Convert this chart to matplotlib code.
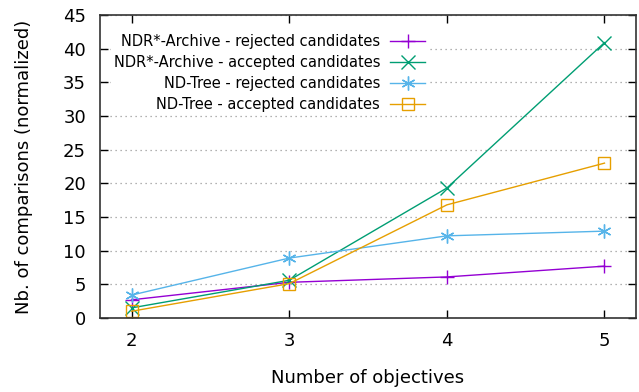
import matplotlib.pyplot as plt

objectives = [2, 3, 4, 5]

ndr_rejected = [2.7, 5.3, 6.1, 7.7]
ndr_accepted = [1.5, 5.6, 19.3, 40.9]
ndtree_rejected = [3.4, 8.9, 12.2, 12.9]
ndtree_accepted = [1.0, 5.1, 16.8, 23.0]

series = [
    ("NDR*-Archive - rejected candidates", ndr_rejected, "#9400d3", "+"),
    ("NDR*-Archive - accepted candidates", ndr_accepted, "#009e73", "x"),
    ("ND-Tree - rejected candidates", ndtree_rejected, "#56b4e9", (6, 2, 0)),
    ("ND-Tree - accepted candidates", ndtree_accepted, "#e69f00", "s"),
]

fig = plt.figure(figsize=(6.39, 3.92), dpi=100)
ax = fig.add_axes([100 / 639, 1 - 318 / 392, 536 / 639, 303 / 392])

for label, vals, color, marker in series:
    face = "none" if marker == "s" else color
    ms = 9 if marker == "s" else 10
    ax.plot(objectives, vals, color=color, lw=1.0, marker=marker,
            markersize=ms, markerfacecolor=face, markeredgewidth=1.0,
            label=label)

ax.set_xlim(1.8, 5.2)
ax.set_ylim(0, 45)
ax.set_xticks(objectives)
ax.set_yticks(range(0, 46, 5))
ax.yaxis.grid(True, linestyle=(0, (1, 3)), color="#999999", lw=0.9)
ax.set_axisbelow(True)

ax.tick_params(direction="in", top=True, right=True, length=6, width=1.0,
               labelsize=13, pad=10)
for s in ax.spines.values():
    s.set_linewidth(1.2)
    s.set_color("#333333")

ax.set_xlabel("Number of objectives", fontsize=13, labelpad=14)
ax.set_ylabel("Nb. of comparisons (normalized)", fontsize=13, labelpad=22)

leg = ax.legend(loc="upper left", bbox_to_anchor=(0.012, 0.96), fontsize=10.5,
                frameon=True, markerfirst=False, handlelength=2.4,
                borderaxespad=0.3, labelspacing=0.4, handletextpad=0.7,
                borderpad=0.2)
leg.get_frame().set_edgecolor("none")
leg.get_frame().set_alpha(1.0)
for t in leg.get_texts():
    t.set_ha("right")
leg._legend_box.align = "right"

fig.savefig("out.png", dpi=100)
